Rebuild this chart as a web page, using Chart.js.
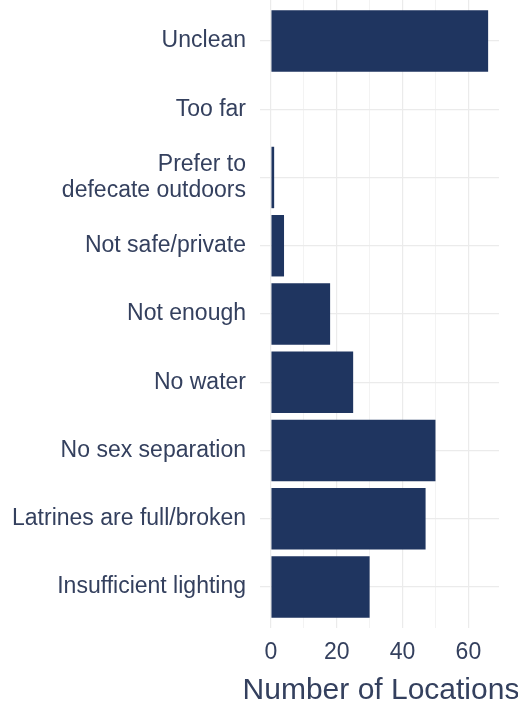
<!DOCTYPE html>
<html>
<head>
<meta charset="utf-8">
<script src="https://cdn.jsdelivr.net/npm/chart.js@4"></script>
<style>
  html, body { margin: 0; padding: 0; background: #fff; }
  #wrap { width: 518px; height: 705px; }
</style>
</head>
<body>
<div id="wrap"><canvas id="chart" width="518" height="705"></canvas></div>
<script>
// reasons, top to bottom
const categories = [
  'Unclean',
  'Too far',
  ['Prefer to', 'defecate outdoors'],
  'Not safe/private',
  'Not enough',
  'No water',
  'No sex separation',
  'Latrines are full/broken',
  'Insufficient lighting'
];
const locations = [66, 0, 1, 4, 18, 25, 50, 47, 30];
const xTicks = [0, 10, 20, 30, 40, 50, 60];
const xLabels = [0, 20, 40, 60];
const xTitle = 'Number of Locations';

const textColor = '#34405e';
const barColor = '#1f3560';
const fontFamily = "'Liberation Sans', Arial, sans-serif";

// the axis title is wider than the plot, so draw it without the scale's maxWidth squeeze
const xTitlePlugin = {
  id: 'xTitle',
  afterDraw(chart) {
    const s = chart.scales.x;
    const c = chart.ctx;
    c.save();
    c.font = '30px ' + fontFamily;
    c.fillStyle = textColor;
    c.textAlign = 'center';
    c.textBaseline = 'alphabetic';
    c.fillText(xTitle, (s.left + s.right) / 2 + 1.5, s.bottom - 6);
    c.restore();
  }
};

const ctx = document.getElementById('chart').getContext('2d');
new Chart(ctx, {
  type: 'bar',
  data: {
    datasets: [{
      label: xTitle,
      data: locations.map((v, i) => ({ x: v, y: i })),
      backgroundColor: barColor,
      borderWidth: 0,
      categoryPercentage: 1,
      barPercentage: 0.9
    }]
  },
  plugins: [xTitlePlugin],
  options: {
    indexAxis: 'y',
    responsive: false,
    animation: false,
    layout: { padding: { left: 0, right: 19, top: 0, bottom: 0 } },
    plugins: { legend: { display: false }, tooltip: { enabled: false } },
    scales: {
      x: {
        type: 'linear',
        min: -3.3,
        max: 69.3,
        border: { display: false },
        grid: {
          drawTicks: false,
          color: c => (c.tick && c.tick.value % 20 === 0) ? '#ebebeb' : '#f3f3f3',
          lineWidth: c => (c.tick && c.tick.value % 20 === 0) ? 1.2 : 1
        },
        afterBuildTicks: s => { s.ticks = xTicks.map(v => ({ value: v })); },
        ticks: {
          padding: 11,
          color: textColor,
          font: { family: fontFamily, size: 23 },
          maxRotation: 0,
          autoSkip: false,
          callback: v => xLabels.includes(v) ? String(v) : ''
        },
        title: { display: false },
        afterFit: s => {
          s.height = 77;
          s.paddingLeft = 0; s.paddingRight = 0;
        }
      },
      y: {
        type: 'linear',
        reverse: true,
        offset: false,
        min: -0.6,
        max: categories.length - 0.4,
        border: { display: false },
        grid: { offset: false, drawTicks: false, color: '#ebebeb', lineWidth: 1.2 },
        afterBuildTicks: s => { s.ticks = categories.map((c, i) => ({ value: i })); },
        ticks: {
          padding: 14,
          color: textColor,
          font: { family: fontFamily, size: 23, lineHeight: 1.15 },
          autoSkip: false,
          callback: v => categories[v]
        },
        afterFit: s => {
          s.width = 260;
          s.paddingTop = 0; s.paddingBottom = 0;
        }
      }
    }
  }
});
</script>
</body>
</html>
